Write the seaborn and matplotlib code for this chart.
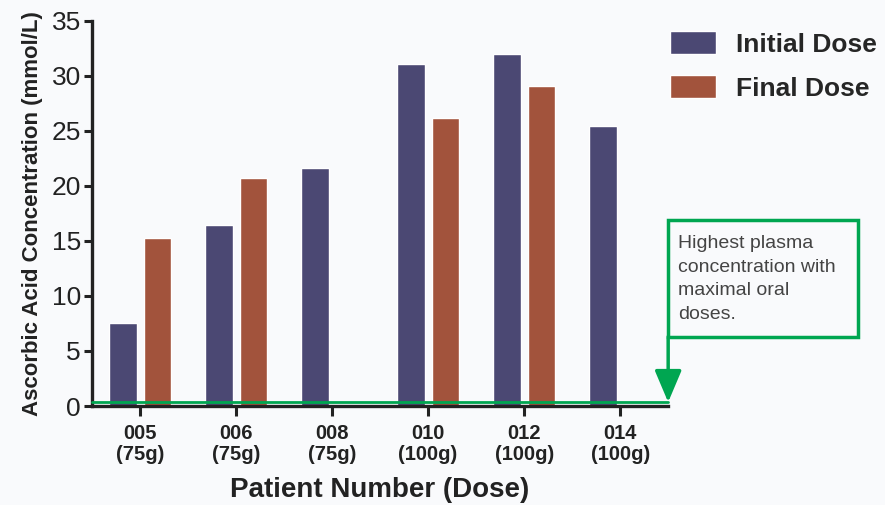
import numpy as np
import pandas as pd
import seaborn as sns
import matplotlib.pyplot as plt
from matplotlib.patches import Rectangle

# Chart data
patients = ["005\n(75g)", "006\n(75g)", "008\n(75g)", "010\n(100g)", "012\n(100g)", "014\n(100g)"]
initial_dose = [7.5, 16.4, 21.6, 31.1, 32.0, 25.4]
final_dose = [15.3, 20.75, np.nan, 26.2, 29.1, np.nan]
series_names = ["Initial Dose", "Final Dose"]
y_ticks = [0, 5, 10, 15, 20, 25, 30, 35]
note_text = "Highest plasma\nconcentration with\nmaximal oral\ndoses."

# Long-form table for seaborn
df = pd.DataFrame({
    "patient": patients * 2,
    "value": initial_dose + final_dose,
    "series": [series_names[0]] * len(patients) + [series_names[1]] * len(patients),
})

sns.set_style("ticks")
plt.rcParams['font.family'] = ['Liberation Sans', 'DejaVu Sans']

bg = "#f9fafc"
green = "#00a651"
colors = {"Initial Dose": "#4b4873", "Final Dose": "#a2533c"}

fig = plt.figure(figsize=(8.85, 5.05), dpi=100, facecolor=bg)
ax = fig.add_axes([0.104, 0.196, 0.651, 0.763])
ax.set_facecolor(bg)

sns.barplot(data=df, x="patient", y="value", hue="series", hue_order=series_names,
            palette=colors, width=0.72, gap=0.2, ax=ax, saturation=1, errorbar=None)

ax.set_xlim(-0.5, 5.5)
ax.set_ylim(0, 35)
ax.set_yticks(y_ticks)
ax.tick_params(axis='y', labelsize=19, width=2.2, length=6, pad=2, color="#222222", labelcolor="#222222")
ax.tick_params(axis='x', labelsize=14.5, width=2.2, length=7, pad=6, color="#222222", labelcolor="#222222")
for lab in ax.get_xticklabels():
    lab.set_fontweight("bold")
    lab.set_linespacing(1.15)
sns.despine(ax=ax)
for s in ["left", "bottom"]:
    ax.spines[s].set_linewidth(2.4)
    ax.spines[s].set_color("#222222")

ax.set_ylabel("Ascorbic Acid Concentration (mmol/L)", fontsize=16, fontweight="bold",
              color="#222222", labelpad=6)
ax.set_xlabel("Patient Number (Dose)", fontsize=20, fontweight="bold", color="#222222",
              labelpad=9)

# Legend outside, top right
handles, labels = ax.get_legend_handles_labels()
ax.get_legend().remove()
fig.legend(handles, labels, loc="upper left", bbox_to_anchor=(0.730, 0.985), frameon=False,
           prop={"size": 19, "weight": "bold"}, handlelength=1.75, handleheight=0.95,
           labelspacing=0.7, handletextpad=0.75)

# Green annotation: line at baseline, box and arrow
ax.plot([-0.5, 5.5], [0.35, 0.35], color=green, lw=2, clip_on=False, zorder=5)
box_bottom = 6.3
box_top = 16.9
ax.add_patch(Rectangle((5.5, box_bottom), 1.98, box_top - box_bottom, fill=False,
                       edgecolor=green, lw=2.5, clip_on=False, zorder=6))
ax.text(5.6, box_top - 1.4, note_text, fontsize=14, color="#444444", va="top", ha="left",
        linespacing=1.5, clip_on=False)
ax.annotate("", xy=(5.5, 0.35), xytext=(5.5, box_bottom), xycoords="data",
            arrowprops=dict(arrowstyle="-|>,head_length=1.3,head_width=0.55", color=green,
                            lw=2.5, mutation_scale=15, shrinkA=0, shrinkB=0),
            annotation_clip=False, zorder=7)

fig.savefig("out.png", dpi=100, facecolor=bg)
